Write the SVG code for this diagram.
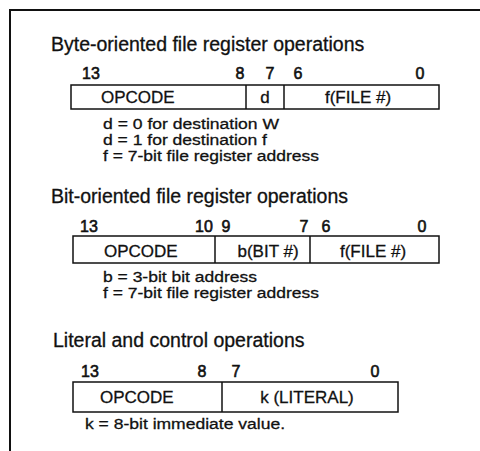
<svg xmlns="http://www.w3.org/2000/svg" width="480" height="451" viewBox="0 0 480 451">
<style>
text{font-family:"Liberation Sans",Arial,sans-serif;fill:#111;stroke:#111;stroke-width:0.3}
.h{font-size:19.5px}
.n{font-size:16px;text-anchor:middle;stroke-width:0.6}
.b{font-size:17px}
.bm{font-size:17px;text-anchor:middle}
.t{font-size:15.5px}
.box{fill:#fff;stroke:#111;stroke-width:1.5}
.div{stroke:#111;stroke-width:1.5}
.frame{fill:none;stroke:#111;stroke-width:2}
</style>
<rect width="480" height="451" fill="#fff"/>
<path class="frame" d="M10,451 V10 H480"/>
<g id="byte-oriented">
<text class="h" x="51" y="51">Byte-oriented file register operations</text>
<text class="n" x="91" y="79">13</text>
<text class="n" x="240" y="79">8</text>
<text class="n" x="270" y="79">7</text>
<text class="n" x="298" y="79">6</text>
<text class="n" x="420" y="79">0</text>
<rect class="box" x="71" y="85" width="368" height="24"/>
<line class="div" x1="246" y1="85" x2="246" y2="109"/>
<line class="div" x1="284" y1="85" x2="284" y2="109"/>
<text class="b" x="101" y="103">OPCODE</text>
<text class="bm" x="265" y="103">d</text>
<text class="bm" x="358" y="103">f(FILE #)</text>
<text class="t" x="103" y="129" textLength="176" lengthAdjust="spacingAndGlyphs">d = 0 for destination W</text>
<text class="t" x="103" y="145" textLength="164" lengthAdjust="spacingAndGlyphs">d = 1 for destination f</text>
<text class="t" x="103" y="161" textLength="216" lengthAdjust="spacingAndGlyphs">f = 7-bit file register address</text>
</g>
<g id="bit-oriented">
<text class="h" x="51" y="203">Bit-oriented file register operations</text>
<text class="n" x="89" y="232">13</text>
<text class="n" x="204" y="232">10</text>
<text class="n" x="226" y="232">9</text>
<text class="n" x="304" y="232">7</text>
<text class="n" x="326" y="232">6</text>
<text class="n" x="422" y="232">0</text>
<rect class="box" x="73" y="236" width="366" height="27"/>
<line class="div" x1="215" y1="236" x2="215" y2="263"/>
<line class="div" x1="310" y1="236" x2="310" y2="263"/>
<text class="b" x="104" y="257">OPCODE</text>
<text class="bm" x="268" y="257">b(BIT #)</text>
<text class="bm" x="373" y="257">f(FILE #)</text>
<text class="t" x="103" y="282" textLength="154" lengthAdjust="spacingAndGlyphs">b = 3-bit bit address</text>
<text class="t" x="103" y="298" textLength="216" lengthAdjust="spacingAndGlyphs">f = 7-bit file register address</text>
</g>
<g id="literal">
<text class="h" x="53" y="347">Literal and control operations</text>
<text class="n" x="90" y="377">13</text>
<text class="n" x="202" y="377">8</text>
<text class="n" x="236" y="377">7</text>
<text class="n" x="375" y="377">0</text>
<rect class="box" x="73" y="382" width="325" height="30"/>
<line class="div" x1="222" y1="382" x2="222" y2="412"/>
<text class="b" x="100" y="403">OPCODE</text>
<text class="bm" x="307" y="403">k (LITERAL)</text>
<text class="t" x="85" y="429" textLength="200" lengthAdjust="spacingAndGlyphs">k = 8-bit immediate value.</text>
</g>
<g id="connectors"></g>
</svg>
